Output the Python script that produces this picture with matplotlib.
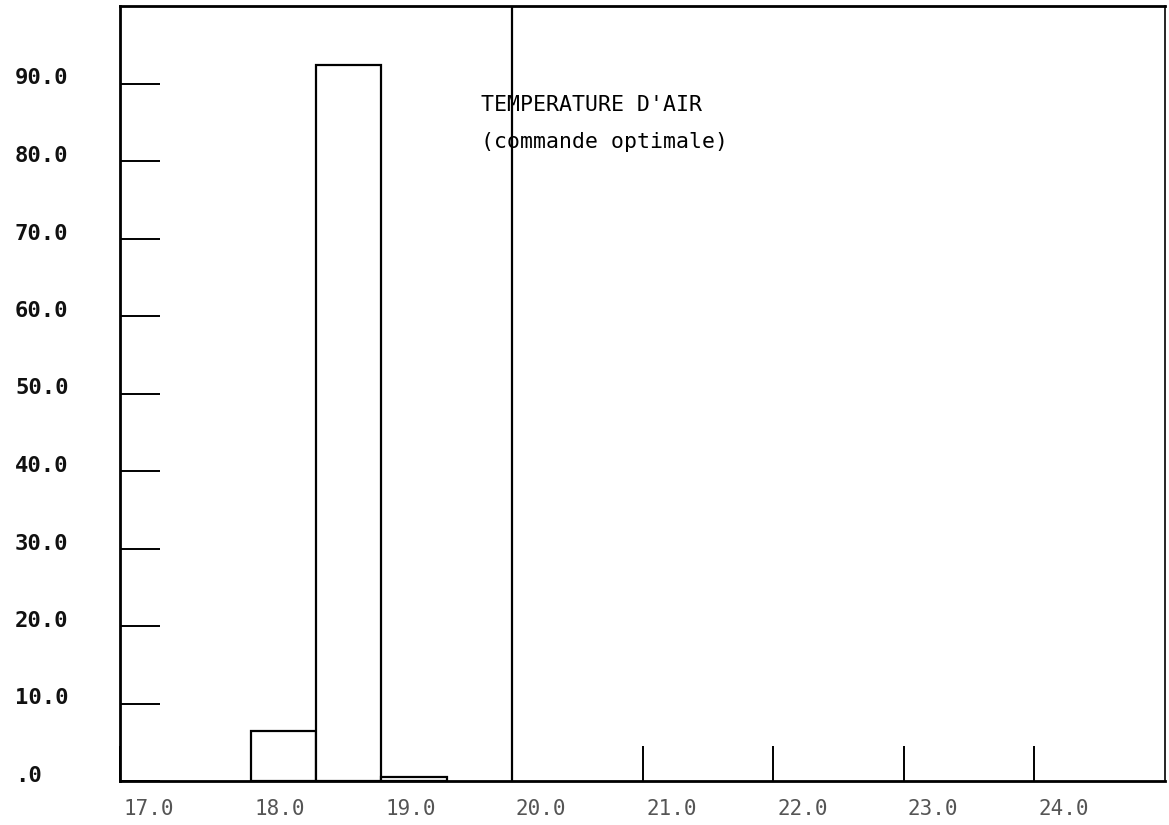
import matplotlib
matplotlib.use("Agg")
import matplotlib.pyplot as plt
from matplotlib.transforms import blended_transform_factory, ScaledTranslation

# ---- data ----
bin_left = [18.0, 18.5, 19.0]
bin_width = 0.5
frequencies = [6.4, 92.4, 0.55]
consigne = 20.0
x_ticks = [17.0, 18.0, 19.0, 20.0, 21.0, 22.0, 23.0, 24.0]
x_tick_labels = ["17.0", "18.0", "19.0", "20.0", "21.0", "22.0", "23.0", "24.0"]
y_ticks = [0, 10, 20, 30, 40, 50, 60, 70, 80, 90]
y_tick_labels = [".0", "10.0", "20.0", "30.0", "40.0", "50.0", "60.0", "70.0", "80.0", "90.0"]
title_lines = ["TEMPERATURE D'AIR", "(commande optimale)"]

W, H = 1169, 825
fig = plt.figure(figsize=(W / 100, H / 100), dpi=100)
ax = fig.add_axes([120 / W, 1 - 781 / H, (1165 - 120) / W, (781 - 6) / H])
ax.set_xlim(17.0, 25.0)
ax.set_ylim(0, 100)

ax.bar(bin_left, frequencies, width=bin_width, align="edge",
       facecolor="white", edgecolor="black", linewidth=1.6, zorder=2)
ax.axvline(consigne, color="black", linewidth=1.6, zorder=3)

for side in ["left", "bottom", "top"]:
    ax.spines[side].set_linewidth(2.0)
ax.spines["right"].set_linewidth(1.2)

mono = "DejaVu Sans Mono"

# x ticks
ax.set_xticks(x_ticks)
ax.set_xticklabels(x_tick_labels, fontfamily=mono, fontsize=15, color="#555555")
ax.tick_params(axis="x", direction="in", length=25, width=1.4, pad=13)
for lab in ax.get_xticklabels():
    lab.set_ha("left")
    lab.set_transform(lab.get_transform() + ScaledTranslation(4 / 100, 0, fig.dpi_scale_trans))

# y ticks
ax.set_yticks(y_ticks)
ax.set_yticklabels([""] * len(y_ticks))
ax.tick_params(axis="y", direction="in", length=29, width=1.4)
trans = blended_transform_factory(fig.transFigure, ax.transData) + \
    ScaledTranslation(0, 5 / 100, fig.dpi_scale_trans)
for v, s in zip(y_ticks, y_tick_labels):
    fig.text(15 / W, v, s, transform=trans, ha="left", va="center",
             fontfamily=mono, fontsize=16, fontweight="bold", color="#111111")

# annotation
ax.text(19.76, 87.2, title_lines[0], fontfamily=mono, fontsize=15.5,
        ha="left", va="center", zorder=4)
ax.text(19.76, 82.4, title_lines[1], fontfamily=mono, fontsize=15.5,
        ha="left", va="center", zorder=4)

fig.savefig("out.png", dpi=100, facecolor="white")
